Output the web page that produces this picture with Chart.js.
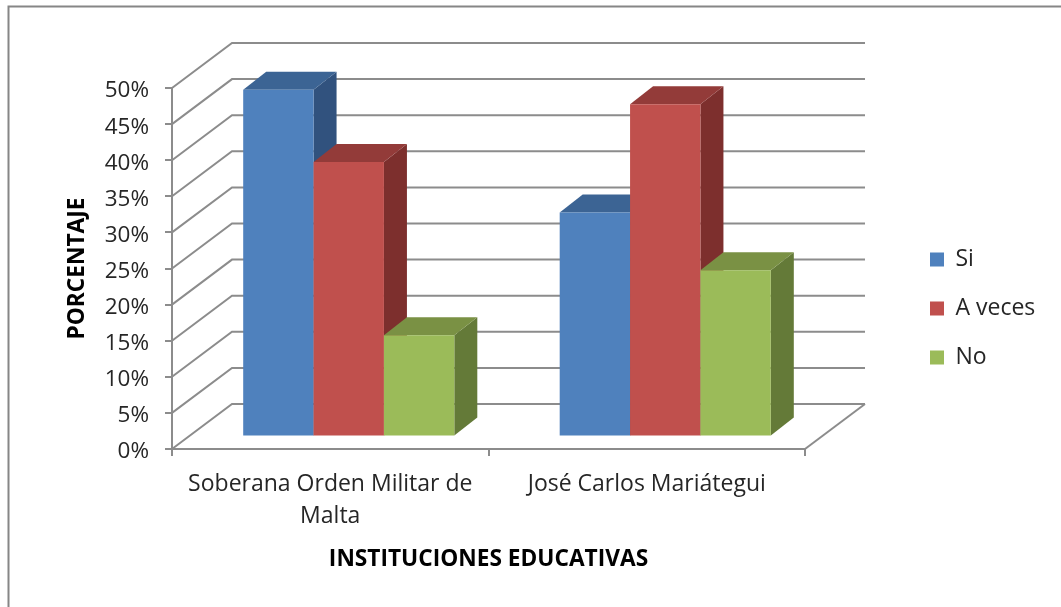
<!DOCTYPE html>
<html><head><meta charset="utf-8">
<style>html,body{margin:0;padding:0;background:#fff}canvas{display:block}</style>
<script src="https://cdn.jsdelivr.net/npm/chart.js@4/dist/chart.umd.min.js"></script>
</head><body>
<div style="width:1061px;height:607px"><canvas id="c" width="1061" height="607"></canvas></div>
<script>
const categories = [["Soberana Orden Militar de","Malta"], "José Carlos Mariátegui"];
const si = [48, 31];
const aVeces = [38, 46];
const no = [14, 23];
const yTicks = [0,5,10,15,20,25,30,35,40,45,50];
const FONT = "Open Sans";
const GRID = "#8c8c8c";
const TEXT = "#262626";

const wallDX = 60, wallDY = -45;
const barShiftX = 18.5, barShiftY = -12.6;
const barDX = 23, barDY = -18;
const faces = [
  {top:"#3c6494", side:"#31527e"},
  {top:"#933b39", side:"#7d2f2d"},
  {top:"#7a9144", side:"#647a38"}
];

const threeD = {
  id:"threeD",
  beforeDraw(chart){
    const c = chart.ctx;
    c.save();
    c.strokeStyle = "#868686"; c.lineWidth = 2;
    c.strokeRect(8.5, 6.5, 1070, 620);
    c.restore();
  },
  beforeDatasetsDraw(chart){
    const c = chart.ctx, y = chart.scales.y, x = chart.scales.x;
    const l = x.left, r = x.right;
    c.save();
    c.strokeStyle = GRID; c.lineWidth = 2; c.lineCap = "butt";
    yTicks.forEach(v=>{
      const p = y.getPixelForValue(v);
      c.beginPath();
      c.moveTo(l, p);
      c.lineTo(l+wallDX, p+wallDY);
      c.lineTo(r+wallDX, p+wallDY);
      c.stroke();
    });
    const p0 = y.getPixelForValue(0);
    c.beginPath(); c.moveTo(r, p0); c.lineTo(r+wallDX, p0+wallDY); c.stroke();
    c.restore();
  },
  beforeDatasetDraw(){ return false; },
  afterDatasetsDraw(chart){
    const c = chart.ctx;
    c.save();
    c.translate(barShiftX, barShiftY);
    chart.data.datasets.forEach((ds,i)=>{
      const f = faces[i];
      chart.getDatasetMeta(i).data.forEach(b=>{
        const {x,y,base,width} = b.getProps(["x","y","base","width"], true);
        const L = x-width/2, R = x+width/2;
        c.fillStyle = f.side;
        c.beginPath();
        c.moveTo(R,y); c.lineTo(R+barDX,y+barDY); c.lineTo(R+barDX,base+barDY); c.lineTo(R,base);
        c.closePath(); c.fill();
        c.fillStyle = f.top;
        c.beginPath();
        c.moveTo(L,y); c.lineTo(L+barDX,y+barDY); c.lineTo(R+barDX,y+barDY); c.lineTo(R,y);
        c.closePath(); c.fill();
        b.draw(c);
      });
    });
    c.restore();
  },
  afterLayout(chart){
    const g = chart.legend;
    const w = g.width, h = g.height;
    g.left = 904; g.right = 904+w; g.top = 222; g.bottom = 222+h;
  }
};

new Chart(document.getElementById("c"), {
  type:"bar",
  data:{
    labels:categories,
    datasets:[
      {label:"Si", data:si, backgroundColor:"#4f81bd"},
      {label:"A veces", data:aVeces, backgroundColor:"#c0504d"},
      {label:"No", data:no, backgroundColor:"#9bbb59"}
    ]
  },
  plugins:[threeD],
  options:{
    responsive:false, animation:false, devicePixelRatio:1,
    layout:{padding:{left:64,right:256,top:88,bottom:34}},
    datasets:{bar:{barPercentage:1,categoryPercentage:0.667}},
    plugins:{
      tooltip:{enabled:false},
      legend:{
        position:"chartArea", align:"start",
        labels:{boxWidth:14,boxHeight:14,padding:26,color:TEXT,font:{family:FONT,size:23}}
      }
    },
    scales:{
      x:{
        afterFit(s){s.height=124;},
        grid:{drawOnChartArea:false,offset:true,tickLength:7,color:GRID,lineWidth:2},
        border:{color:GRID,width:2},
        ticks:{color:TEXT,font:{family:FONT,size:23,lineHeight:1.4},maxRotation:0,minRotation:0,padding:12,autoSkip:false},
        title:{display:true,text:"INSTITUCIONES EDUCATIVAS",color:"#000",padding:0,font:{family:FONT,size:22.7,weight:"bold"}}
      },
      y:{
        min:0,max:50,
        afterFit(s){s.width=108;},
        afterBuildTicks(s){s.ticks=yTicks.map(v=>({value:v}));},
        grid:{drawOnChartArea:false,tickLength:7,color:GRID,lineWidth:2},
        border:{color:GRID,width:2},
        ticks:{color:TEXT,padding:16,labelOffset:3,font:{family:FONT,size:22.5},callback:v=>v+"%"},
        title:{display:true,text:"PORCENTAJE",color:"#000",padding:0,font:{family:FONT,size:22.7,weight:"bold"}}
      }
    }
  }
});
</script>
</body></html>
